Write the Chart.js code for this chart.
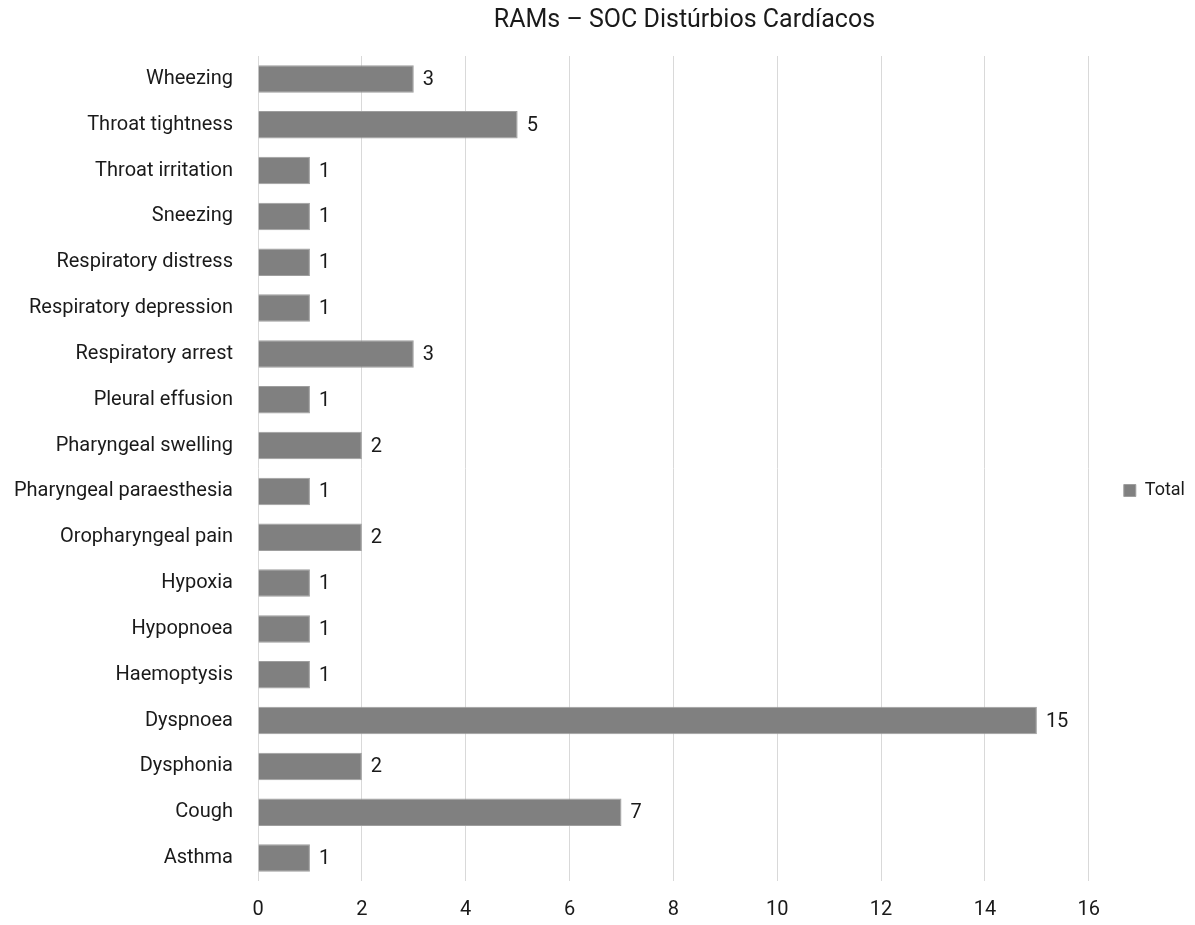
<!DOCTYPE html>
<html>
<head>
<meta charset="utf-8">
<script src="https://cdn.jsdelivr.net/npm/chart.js@4/dist/chart.umd.min.js"></script>
<style>
html,body{margin:0;padding:0;background:#fff;}
#wrap{width:1195px;height:925px;position:relative;}
</style>
</head>
<body>
<div id="wrap"><canvas id="c" width="1195" height="925"></canvas></div>
<script>
const titleText = 'RAMs – SOC Distúrbios Cardíacos';
const seriesName = 'Total';
const categories = [
  'Wheezing','Throat tightness','Throat irritation','Sneezing','Respiratory distress',
  'Respiratory depression','Respiratory arrest','Pleural effusion','Pharyngeal swelling',
  'Pharyngeal paraesthesia','Oropharyngeal pain','Hypoxia','Hypopnoea','Haemoptysis',
  'Dyspnoea','Dysphonia','Cough','Asthma'
];
const totals = [3,5,1,1,1,1,3,1,2,1,2,1,1,1,15,2,7,1];
const xMin = 0, xMax = 16, xStep = 2;

const FONT = 'Roboto, "Liberation Sans", sans-serif';

const valueLabels = {
  id: 'valueLabels',
  afterDatasetsDraw(chart) {
    const ctx = chart.ctx;
    const meta = chart.getDatasetMeta(0);
    ctx.save();
    ctx.font = '20px ' + FONT;
    ctx.fillStyle = '#1a1a1a';
    ctx.textAlign = 'left';
    ctx.textBaseline = 'middle';
    meta.data.forEach((el, i) => {
      ctx.fillText(String(chart.data.datasets[0].data[i]), el.x + 9, el.y + 1);
    });
    ctx.restore();
  }
};

const customTitle = {
  id: 'customTitle',
  afterDraw(chart) {
    const ctx = chart.ctx;
    ctx.save();
    ctx.font = '25px ' + FONT;
    ctx.fillStyle = '#1a1a1a';
    ctx.textAlign = 'center';
    ctx.textBaseline = 'middle';
    const ca = chart.chartArea;
    ctx.fillText(titleText, (ca.left + ca.right) / 2 + 11, 21);
    ctx.restore();
  }
};

new Chart(document.getElementById('c'), {
  type: 'bar',
  data: {
    labels: categories,
    datasets: [{
      label: seriesName,
      data: totals,
      backgroundColor: '#808080',
      borderColor: '#9e9e9e',
      borderWidth: 1,
      barPercentage: 0.6,
      categoryPercentage: 1.0
    }]
  },
  options: {
    indexAxis: 'y',
    responsive: false,
    animation: false,
    layout: { padding: { top: 56, bottom: 0, left: 0, right: 0 } },
    scales: {
      x: {
        min: xMin, max: xMax,
        afterFit(scale) { scale.height = 44; },
        ticks: { stepSize: xStep, color: '#1a1a1a', font: { family: FONT, size: 20 }, padding: 17 },
        grid: { color: '#d9d9d9', lineWidth: 1, drawTicks: false },
        border: { display: false }
      },
      y: {
        afterFit(scale) { scale.width = 258; },
        ticks: { color: '#1a1a1a', font: { family: FONT, size: 20 }, padding: 25, autoSkip: false },
        grid: { display: false, drawTicks: false },
        border: { display: false }
      }
    },
    plugins: {
      legend: {
        position: 'right',
        labels: { boxWidth: 12, boxHeight: 12, color: '#1a1a1a', font: { family: FONT, size: 18 }, padding: 35 }
      },
      title: { display: false },
      tooltip: { enabled: false }
    }
  },
  plugins: [valueLabels, customTitle]
});
</script>
</body>
</html>
